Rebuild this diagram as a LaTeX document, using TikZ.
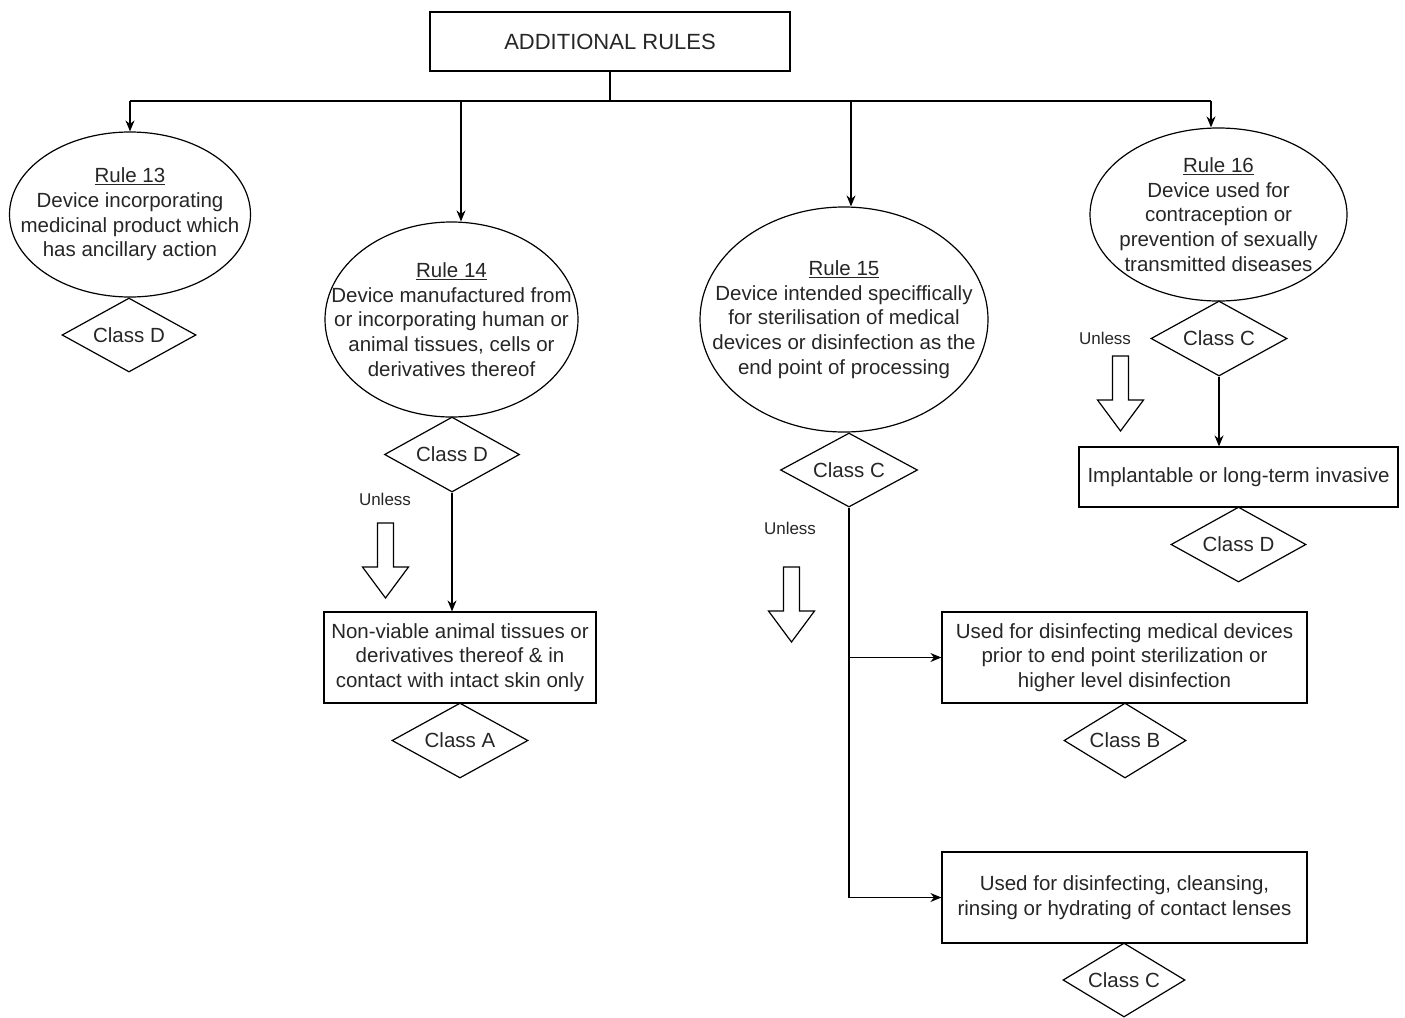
\documentclass[tikz,border=0pt]{standalone}
\usepackage{fontspec}
\setmainfont{Liberation Sans}
\usetikzlibrary{shapes.geometric,arrows.meta,calc}
\begin{document}
\begin{tikzpicture}[x=1pt,y=-1pt,
  every node/.style={font=\fontsize{20.5}{24.7}\selectfont, text=black!85},
  base/.style={draw, line width=1.2pt},
  rbox/.style={base, rectangle, inner sep=2pt, align=center},
  oval/.style={base, ellipse, inner sep=0pt},
  dia/.style={base, diamond, aspect=1.8, inner sep=0pt},
  arr/.style={line width=1.2pt, -{Stealth[length=11pt,width=9pt]}},
  conn/.style={line width=1.2pt},
  unl/.style={font=\fontsize{17}{20}\selectfont},
  hollowarrow/.pic={\draw[line width=1.2pt] (-8,0) -- (8,0) -- (8,44) -- (23,44) -- (0,75) -- (-23,44) -- (-8,44) -- cycle;}
]
\useasboundingbox (0,0) rectangle (1405,1017);

% top
\node[rbox, minimum width=360, minimum height=59, font=\fontsize{22}{26}\selectfont] (top) at (610,41.5) {ADDITIONAL RULES};

% ellipses
\node[oval, minimum width=241, minimum height=165,
  label={[align=center]center:{\underline{Rule 13}\\Device incorporating\\medicinal product which\\has ancillary action}}] (r13) at (130,214.5) {};
\node[oval, minimum width=253, minimum height=195,
  label={[align=center]center:{\underline{Rule 14}\\Device manufactured from\\or incorporating human or\\animal tissues, cells or\\derivatives thereof}}] (r14) at (451.5,319.5) {};
\node[oval, minimum width=288, minimum height=225,
  label={[align=center]center:{\underline{Rule 15}\\Device intended speciffically\\for sterilisation of medical\\devices or disinfection as the\\end point of processing}}] (r15) at (844,319.5) {};
\node[oval, minimum width=257, minimum height=173,
  label={[align=center]center:{\underline{Rule 16}\\Device used for\\contraception or\\prevention of sexually\\transmitted diseases}}] (r16) at (1218.5,214.5) {};

% diamonds
\node[dia, minimum width=134, minimum height=74] (d13) at (129,335) {Class D};
\node[dia, minimum width=135, minimum height=75] (d14) at (452,454.5) {Class D};
\node[dia, minimum width=136, minimum height=75] (dA) at (460,740.5) {Class A};
\node[dia, minimum width=137, minimum height=74] (d15) at (849,470) {Class C};
\node[dia, minimum width=122, minimum height=75] (dB) at (1125,740.5) {Class B};
\node[dia, minimum width=122, minimum height=74] (dC) at (1124,980) {Class C};
\node[dia, minimum width=136, minimum height=75] (d16) at (1219,338.5) {Class C};
\node[dia, minimum width=135, minimum height=75] (dD) at (1238.5,544.5) {Class D};

% boxes
\node[rbox, minimum width=272, minimum height=91] (box14) at (460,657.5)
  {Non-viable animal tissues or\\derivatives thereof \& in\\contact with intact skin only};
\node[rbox, minimum width=365, minimum height=91] (box15a) at (1124.5,657.5)
  {Used for disinfecting medical devices\\prior to end point sterilization or\\higher level disinfection};
\node[rbox, minimum width=365, minimum height=91] (box15b) at (1124.5,897.5)
  {Used for disinfecting, cleansing,\\rinsing or hydrating of contact lenses};
\node[rbox, minimum width=319, minimum height=60] (box16) at (1238.5,477)
  {Implantable or long-term invasive};

% unless labels and hollow arrows
\node[unl] (u14) at (385,499) {Unless};
\node[unl] (u15) at (790,528) {Unless};
\node[unl] (u16) at (1105,338) {Unless};
\pic at (385.5,523) {hollowarrow};
\pic at (791.5,567) {hollowarrow};
\pic at (1120.5,356) {hollowarrow};

% bus
\coordinate (b13) at (130,101);
\coordinate (b14) at (461,101);
\coordinate (b15) at (851,101);
\coordinate (b16) at (1211,101);
\draw[conn] (top.south) -- (top.south |- b13);
\draw[conn] (b13) -- (b16);
\draw[arr] (b13) -- (b13 |- r13.north);
\draw[arr] (b14) -- (b14 |- r14.north);
\draw[arr] (b15) -- (b15 |- r15.north);
\draw[arr] (b16) -- (b16 |- r16.north);

% branches
\draw[arr] (d14.south) -- (d14.south |- box14.north);
\draw[arr] (d15.south) |- (box15b.west);
\draw[arr] (d15.south |- box15a.west) -- (box15a.west);
\draw[arr] (d16.south) -- (d16.south |- box16.north);
\end{tikzpicture}
\end{document}
